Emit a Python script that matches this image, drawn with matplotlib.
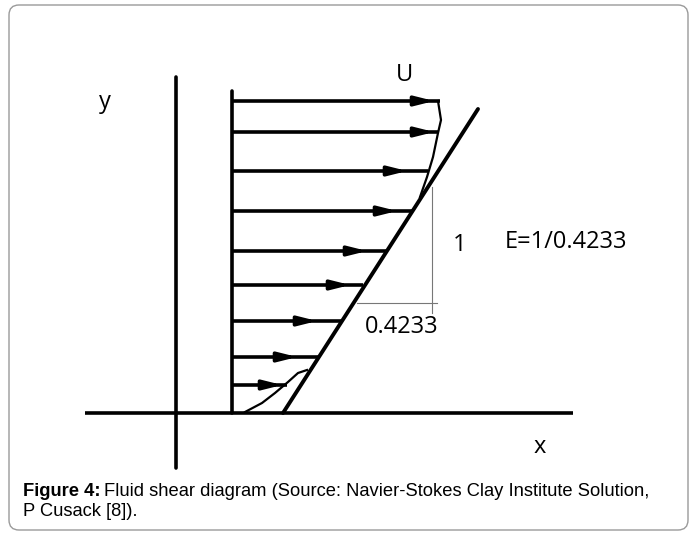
import numpy as np
import matplotlib
matplotlib.use("Agg")
import matplotlib.pyplot as plt
from matplotlib.patches import FancyBboxPatch

# velocity profile: arrow heights above the floor, where each shaft ends, where its head sits
heights = [312, 281, 242, 202, 162, 128, 92, 56, 28]
shaft_end = [208, 206, 196, 180, 155, 131, 110, 88, 55]
head_tip = [205, 205, 178, 168, 138, 121, 88, 68, 53]

# straight shear line and the hand drawn profile curve
shear_x = [51, 246]
shear_y = [0, 304]
upper_x = [206, 209, 206, 201, 195, 188]
upper_y = [312, 293, 280, 256, 236, 216]
lower_x = [13, 30, 43, 56, 66, 75]
lower_y = [1, 10, 20, 31, 40, 43]

# slope triangle
rise_x = [200, 200]
rise_y = [226, 100]
run_x = [125, 205]
run_y = [110, 110]

fig = plt.figure(figsize=(6.96, 5.34), dpi=100)
ax = fig.add_axes([0, 0, 1, 1])
ax.set_xlim(-232, 464)
ax.set_ylim(-121, 413)
ax.axis("off")

lw = 2.6
ax.plot([-147, 341], [0, 0], color="k", lw=lw, solid_capstyle="butt")
ax.plot([-56, -56], [-55, 336], color="k", lw=lw, solid_capstyle="round")
ax.plot([0, 0], [0, 322], color="k", lw=lw, solid_capstyle="round")

for h, e, t in zip(heights, shaft_end, head_tip):
  ax.plot([0, e], [h, h], color="k", lw=lw, solid_capstyle="butt")
  ax.annotate("", xy=(t, h), xytext=(t - 22, h),
              arrowprops=dict(arrowstyle="-|>,head_length=1.0,head_width=0.25",
                              color="k", lw=lw, mutation_scale=11))

ax.plot(shear_x, shear_y, color="k", lw=2.8, solid_capstyle="round")
ax.plot(upper_x, upper_y, color="k", lw=1.6)
ax.plot(lower_x, lower_y, color="k", lw=1.6)

ax.plot(rise_x, rise_y, color="#777777", lw=0.8)
ax.plot(run_x, run_y, color="#777777", lw=0.8)

fnt = ["Open Sans", "DejaVu Sans"]
fs = 17
ax.text(173, 338, "U", fontsize=fs, family=fnt, ha="center", va="center")
ax.text(-127, 311, "y", fontsize=fs, family=fnt, ha="center", va="center")
ax.text(228, 168, "1", fontsize=fs, family=fnt, ha="center", va="center")
ax.text(273, 171, "E=1/0.4233", fontsize=fs, family=fnt, ha="left", va="center")
ax.text(133, 86, "0.4233", fontsize=fs, family=fnt, ha="left", va="center")
ax.text(308, -34, "x", fontsize=fs, family=fnt, ha="center", va="center")

# caption, bold label followed by regular text
cfnt = ["Liberation Sans", "DejaVu Sans"]
csize = 13.2
bold = fig.text(23 / 696, 1 - 492 / 534, "Figure 4:", fontsize=csize, family=cfnt,
                weight="bold", va="center")
r = fig.canvas.get_renderer()
bb = bold.get_window_extent(renderer=r)
fig.text((bb.x1 + 4) / 696, 1 - 492 / 534,
         "Fluid shear diagram (Source: Navier-Stokes Clay Institute Solution,",
         fontsize=csize, family=cfnt, va="center")
fig.text(23 / 696, 1 - 511 / 534, "P Cusack [8]).", fontsize=csize, family=cfnt, va="center")

box = FancyBboxPatch((9, 4), 679, 525, boxstyle="round,pad=0,rounding_size=10",
                     transform=None, facecolor="none", edgecolor="#9a9a9a", lw=1)
fig.patches.append(box)

fig.savefig("out.png", dpi=100)
